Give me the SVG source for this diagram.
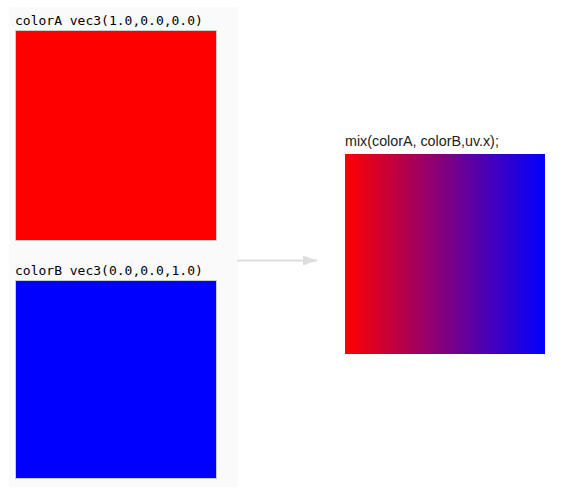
<svg xmlns="http://www.w3.org/2000/svg" width="562" height="499" viewBox="0 0 562 499">
<style>
.mono{font-family:"DejaVu Sans Mono","Liberation Mono",monospace;font-size:13px;fill:#000}
.sans{font-family:"Liberation Sans","DejaVu Sans",sans-serif;font-size:14.3px;fill:#222}
.sq{stroke:#cccccc;stroke-width:1}
</style>
<defs>
<linearGradient id="g" x1="0" y1="0" x2="1" y2="0">
<stop offset="0" stop-color="#ff0000"/>
<stop offset="1" stop-color="#0000ff"/>
</linearGradient>
<marker id="ah" markerWidth="14" markerHeight="10" refX="14" refY="5" orient="auto" markerUnits="userSpaceOnUse">
<path d="M0,0 L14,5 L0,10 Z" fill="#dddddd"/>
</marker>
</defs>
<rect x="0" y="0" width="562" height="499" fill="#ffffff"/>
<rect x="9" y="7" width="229" height="480" fill="#fafafa"/>
<g id="colorA">
<text class="mono" x="15" y="25">colorA vec3(1.0,0.0,0.0)</text>
<rect class="sq" x="15.5" y="30.5" width="201" height="210" fill="#ff0000"/>
</g>
<g id="colorB">
<text class="mono" x="15" y="275">colorB vec3(0.0,0.0,1.0)</text>
<rect class="sq" x="15.5" y="280.5" width="201" height="198" fill="#0000ff"/>
</g>
<g id="connectors">
<line x1="237" y1="260.5" x2="317" y2="260.5" stroke="#dddddd" stroke-width="2" marker-end="url(#ah)"/>
</g>
<g id="mix">
<text class="sans" x="345" y="146">mix(colorA, colorB,uv.x);</text>
<rect x="345" y="154" width="200" height="200" fill="url(#g)"/>
</g>
</svg>
